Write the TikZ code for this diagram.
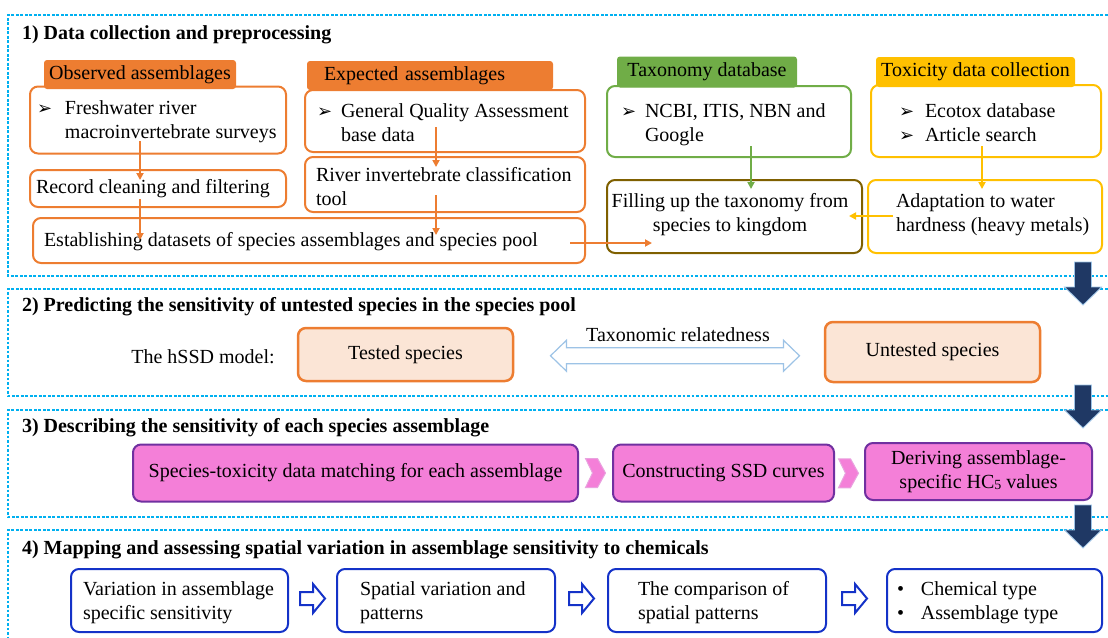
\documentclass[tikz,border=0pt]{standalone}
\usepackage{fontspec}
\setmainfont{Liberation Serif}
\newfontfamily\symf{DejaVu Sans}
\usetikzlibrary{arrows.meta,calc}
\definecolor{cOrange}{HTML}{ED7D31}
\definecolor{cGreen}{HTML}{70AD47}
\definecolor{cGold}{HTML}{FFC000}
\definecolor{cBrown}{HTML}{7F6000}
\definecolor{cPeach}{HTML}{FBE5D6}
\definecolor{cPink}{HTML}{F47FD8}
\definecolor{cPinkEdge}{HTML}{E9A3DF}
\definecolor{cPurple}{HTML}{7030A0}
\definecolor{cBlue}{HTML}{1432C8}
\definecolor{cNavy}{HTML}{1F3864}
\definecolor{cLight}{HTML}{9DC3E6}
\definecolor{cCyan}{HTML}{00B0F0}
\newcommand{\arrb}{{\symf\fontsize{18}{18}\selectfont ➢}}
\begin{document}
\begin{tikzpicture}[x=1pt,y=-1pt,
  every node/.style={font=\fontsize{20}{24}\selectfont, inner sep=0pt, outer sep=0pt},
  panel/.style={draw=cCyan, line width=2.6pt, dash pattern=on 2.6pt off 1.9pt},
  ptitle/.style={anchor=west, font=\fontsize{20}{24}\selectfont\bfseries},
  box/.style={rounded corners=8pt, line width=2pt, fill=white},
  txt/.style={anchor=west, align=left},
  tab/.style={rounded corners=3pt, minimum height=29pt},
  arr/.style={line width=2pt, -{Triangle[length=7pt,width=7pt]}},
  darr/.style={fill=cNavy, draw=cLight, line width=0.8pt},
  harr/.style={fill=white, draw=cBlue, line width=2pt, line join=miter},
  chev/.style={fill=cPink, draw=cPinkEdge, line width=1pt}
]
\useasboundingbox (0,0) rectangle (1108,637);

% ---------- panels ----------
\draw[panel] (1112,15) -- (8,15) -- (8,276) -- (1112,276);
\draw[panel] (1112,289) -- (8,289) -- (8,396) -- (1112,396);
\draw[panel] (1112,410) -- (8,410) -- (8,517) -- (1112,517);
\draw[panel] (1112,530) -- (8,530) -- (8,642);

\node[ptitle] (t1) at (22,35) {1) Data collection and preprocessing};
\node[ptitle] (t2) at (22,307) {2) Predicting the sensitivity of untested species in the species pool};
\node[ptitle] (t3) at (22,428) {3) Describing the sensitivity of each species assemblage};
\node[ptitle] (t4) at (22,550) {4) Mapping and assessing spatial variation in assemblage sensitivity to chemicals};

% ---------- panel 1 ----------
\node[box, draw=cOrange, minimum width=256pt, minimum height=67pt] (obsBox) at (158,120) {};
\node[txt] (obsTxt) at (37,122) {\makebox[28pt][l]{\arrb}Freshwater river\\\hspace*{28pt}macroinvertebrate surveys};
\node[tab, fill=cOrange, minimum width=192pt] (obsTab) at (140,74.5) {Observed assemblages};
\node[box, draw=cOrange, minimum width=256pt, minimum height=37pt] (recBox) at (158,188.5) {};
\node[txt] (recTxt) at (36,188.5) {Record cleaning and filtering};
\node[box, draw=cOrange, minimum width=552pt, minimum height=45pt] (estBox) at (309,240.5) {};
\node[txt] (estTxt) at (44,242) {Establishing datasets of species assemblages and species pool};

\node[box, draw=cOrange, minimum width=280pt, minimum height=62pt] (expBox) at (445,121) {};
\node[txt] (expTxt) at (317,122.5) {\makebox[24pt][l]{\arrb}General Quality Assessment\\\hspace*{24pt}base data};
\node[tab, fill=cOrange, minimum width=246pt, inner xsep=17pt, text width=212pt, align=left]
  (expTab) at (430,75.5) {Expected assemblages};
\node[box, draw=cOrange, minimum width=280pt, minimum height=55pt] (rivBox) at (445,184.5) {};
\node[txt] (rivTxt) at (316,187) {River invertebrate classification\\tool};

\node[box, draw=cGreen, minimum width=244pt, minimum height=71pt] (taxBox) at (729,121.5) {};
\node[txt] (taxTxt) at (621,124.5) {\makebox[24pt][l]{\arrb}NCBI, ITIS, NBN and\\\hspace*{24pt}Google};
\node[tab, fill=cGreen, minimum width=180pt, minimum height=31pt] (taxTab) at (707,72) {Taxonomy database};
\node[box, draw=cBrown, minimum width=255pt, minimum height=73pt] (fillBox) at (734.5,216.5) {};
\node[align=center] (fillTxt) at (730,215) {Filling up the taxonomy from\\species to kingdom};

\node[box, draw=cGold, minimum width=230pt, minimum height=72pt] (toxBox) at (986,121) {};
\node[txt] (toxTxt) at (899,123) {\makebox[26pt][l]{\arrb}Ecotox database\\\makebox[26pt][l]{\arrb}Article search};
\node[tab, fill=cGold, minimum width=199pt, minimum height=30pt] (toxTab) at (975.5,72) {Toxicity data collection};
\node[box, draw=cGold, minimum width=234pt, minimum height=73pt] (adaBox) at (985,216.5) {};
\node[txt] (adaTxt) at (896,214.5) {Adaptation to water\\hardness (heavy metals)};

\coordinate (a1s) at (140,141); \coordinate (a1e) at (140,180);
\coordinate (a2s) at (140,199); \coordinate (a2e) at (140,240);
\coordinate (a3s) at (436,127); \coordinate (a3e) at (436,167);
\coordinate (a4s) at (436,195); \coordinate (a4e) at (436,235);
\coordinate (a5s) at (570,243); \coordinate (a5e) at (652,243);
\coordinate (g1s) at (751,146); \coordinate (g1e) at (751,189);
\coordinate (y1s) at (982,146); \coordinate (y1e) at (982,189);
\coordinate (y2s) at (893,216); \coordinate (y2e) at (849,216);
\draw[arr, cOrange] (a1s) -- (a1e);
\draw[arr, cOrange] (a2s) -- (a2e);
\draw[arr, cOrange] (a3s) -- (a3e);
\draw[arr, cOrange] (a4s) -- (a4e);
\draw[arr, cOrange] (a5s) -- (a5e);
\draw[arr, cGreen] (g1s) -- (g1e);
\draw[arr, cGold] (y1s) -- (y1e);
\draw[arr, cGold] (y2s) -- (y2e);

% ---------- panel 2 ----------
\node (model) at (203,357) {The hSSD model:};
\node[box, fill=cPeach, draw=cOrange, line width=2.5pt, minimum width=215pt, minimum height=53pt]
  (test) at (405.5,354.5) {Tested species};
\node[box, fill=cPeach, draw=cOrange, line width=2.5pt, minimum width=215pt, minimum height=60pt]
  (untest) at (932.5,352) {Untested species};
\coordinate (rel) at ($(test.east)!0.5!(untest.west)+(6,2.5)$);
\draw[draw=cLight, line width=1.2pt, fill=white, line join=miter]
  ([shift={(-124.5,0)}]rel) -- ([shift={(-108.5,-15.5)}]rel) -- ([shift={(-108.5,-8)}]rel)
  -- ([shift={(108.5,-8)}]rel) -- ([shift={(108.5,-15.5)}]rel) -- ([shift={(124.5,0)}]rel)
  -- ([shift={(108.5,15.5)}]rel) -- ([shift={(108.5,8)}]rel) -- ([shift={(-108.5,8)}]rel)
  -- ([shift={(-108.5,15.5)}]rel) -- cycle;
\node (relLab) at (678,335) {Taxonomic relatedness};

% ---------- panel 3 ----------
\node[box, fill=cPink, draw=cPurple, minimum width=445pt, minimum height=57pt]
  (p3a) at (355.5,473) {Species-toxicity data matching for each assemblage};
\node[box, fill=cPink, draw=cPurple, minimum width=221pt, minimum height=57pt]
  (p3b) at (723.5,473) {Constructing SSD curves};
\node[box, fill=cPink, draw=cPurple, minimum width=227pt, minimum height=57pt, align=center]
  (p3c) at (978.5,471.5) {Deriving assemblage-\\specific HC{\fontsize{14}{14}\selectfont\raisebox{-1pt}{5}} values};
\coordinate (ch1) at ($(p3a.east)!0.5!(p3b.west)$);
\coordinate (ch2) at ($(p3b.east)!0.5!(p3c.west)+(-1,1)$);
\foreach \c in {ch1,ch2}{
  \draw[chev] ([shift={(-10,-14.5)}]\c) -- ([shift={(2,-14.5)}]\c) -- ([shift={(10,0)}]\c)
    -- ([shift={(2,14.5)}]\c) -- ([shift={(-10,14.5)}]\c) -- ([shift={(-3,0)}]\c) -- cycle;
}

% ---------- panel 4 ----------
\node[box, draw=cBlue, minimum width=217pt, minimum height=63pt] (b41) at (179.5,600.5) {};
\node[txt] (b41t) at (83,603) {Variation in assemblage\\specific sensitivity};
\node[box, draw=cBlue, minimum width=218pt, minimum height=63pt] (b42) at (446,600.5) {};
\node[txt] (b42t) at (360,603) {Spatial variation and\\patterns};
\node[box, draw=cBlue, minimum width=218pt, minimum height=63pt] (b43) at (717,600.5) {};
\node[txt] (b43t) at (638,603) {The comparison of\\spatial patterns};
\node[box, draw=cBlue, minimum width=215pt, minimum height=63pt] (b44) at (994.5,600.5) {};
\node[txt] (b44t) at (897,603) {\makebox[24pt][l]{•}Chemical type\\\makebox[24pt][l]{•}Assemblage type};
\coordinate (h1) at ($(b41.east)!0.5!(b42.west)+(0,-2)$);
\coordinate (h2) at ($(b42.east)!0.5!(b43.west)+(0,-2)$);
\coordinate (h3) at ($(b43.east)!0.5!(b44.west)+(-2,-2)$);
\foreach \c in {h1,h2,h3}{
  \draw[harr] ([shift={(-12.5,-6.5)}]\c) -- ([shift={(0.5,-6.5)}]\c) -- ([shift={(0.5,-14.5)}]\c)
    -- ([shift={(12.5,0)}]\c) -- ([shift={(0.5,14.5)}]\c) -- ([shift={(0.5,6.5)}]\c)
    -- ([shift={(-12.5,6.5)}]\c) -- cycle;
}

% ---------- dark step arrows ----------
\coordinate (d1) at (1083,283.5);
\coordinate (d2) at (1083,406.5);
\coordinate (d3) at (1083,526.5);
\foreach \c in {d1,d2,d3}{
  \draw[darr] ([shift={(-8.5,-21.5)}]\c) -- ([shift={(8.5,-21.5)}]\c) -- ([shift={(8.5,3.5)}]\c)
    -- ([shift={(18.5,3.5)}]\c) -- ([shift={(0,21.5)}]\c) -- ([shift={(-18.5,3.5)}]\c)
    -- ([shift={(-8.5,3.5)}]\c) -- cycle;
}
\end{tikzpicture}
\end{document}
